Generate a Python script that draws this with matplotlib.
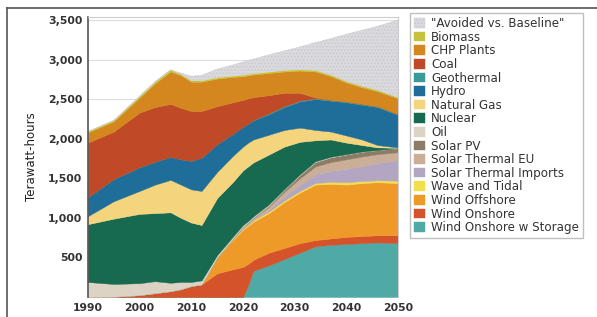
import matplotlib
matplotlib.use("Agg")
import matplotlib.pyplot as plt
from matplotlib.ticker import FuncFormatter
from matplotlib.lines import Line2D

plt.rcParams['font.family'] = ['DejaVu Sans']
plt.rcParams['hatch.color'] = '#c2c2c6'
plt.rcParams['hatch.linewidth'] = 0.6

years = [1990, 1995, 2000, 2003, 2006, 2008, 2010, 2012, 2015, 2018, 2020,
         2021, 2022, 2025, 2028, 2031, 2034, 2037, 2040, 2043, 2046, 2050]

# stack from the bottom up (TWh)
wind_storage = [0, 0, 0, 0, 0, 0, 0, 0, 0, 0, 0,
                150, 330, 400, 480, 560, 640, 660, 670, 680, 690, 680]
wind_onshore = [0, 5, 25, 50, 75, 100, 140, 160, 300, 350, 380,
                270, 140, 160, 140, 120, 80, 80, 90, 90, 90, 100]
wind_offshore = [0, 0, 0, 0, 0, 0, 0, 0, 200, 370, 470,
                 480, 480, 500, 580, 640, 700, 690, 660, 670, 670, 660]
wave_tidal = [0, 0, 0, 0, 0, 0, 0, 0, 0, 10, 15,
              15, 20, 20, 20, 20, 20, 25, 30, 25, 25, 30]
solar_imports = [0, 0, 0, 0, 0, 0, 0, 0, 0, 0, 0,
                 0, 0, 20, 50, 80, 110, 140, 170, 190, 220, 260]
solar_eu = [0, 0, 0, 0, 0, 0, 0, 0, 0, 10, 20,
            25, 30, 40, 60, 80, 100, 110, 120, 120, 110, 100]
solar_pv = [0, 0, 0, 0, 0, 0, 0, 0, 0, 0, 5,
            5, 5, 15, 25, 40, 55, 60, 60, 60, 50, 50]
oil = [190, 160, 150, 150, 105, 90, 50, 50, 30, 20, 20,
       15, 15, 15, 10, 10, 10, 7, 5, 3, 2, 0]
nuclear = [730, 825, 875, 860, 890, 810, 750, 700, 720, 690, 690,
           690, 680, 630, 535, 410, 265, 218, 145, 82, 33, 5]
natural_gas = [100, 220, 290, 360, 410, 420, 420, 430, 330, 330, 300,
               300, 290, 250, 210, 180, 130, 100, 90, 70, 30, 5]
hydro = [240, 280, 300, 290, 290, 320, 360, 420, 350, 280, 250,
         240, 240, 260, 290, 330, 390, 390, 420, 440, 480, 410]
geothermal = [0, 0, 0, 0, 0, 0, 0, 0, 0, 0, 0,
              0, 5, 10, 10, 10, 10, 10, 10, 10, 10, 10]
coal = [690, 600, 690, 690, 670, 650, 630, 590, 480, 400, 340,
        320, 290, 230, 170, 100, 10, 0, 0, 0, 0, 0]
chp = [130, 130, 190, 300, 410, 410, 370, 370, 350, 320, 300,
       290, 285, 280, 270, 280, 330, 300, 240, 210, 190, 200]
biomass = [10, 10, 15, 20, 20, 15, 15, 15, 15, 15, 15,
           15, 15, 15, 15, 15, 15, 15, 15, 15, 15, 10]
avoided = [0, 0, 0, 0, 0, 15, 55, 65, 105, 135, 165,
           175, 180, 215, 245, 285, 350, 460, 595, 705, 805, 980]

labels = ["Wind Onshore w Storage", "Wind Onshore", "Wind Offshore",
          "Wave and Tidal", "Solar Thermal Imports", "Solar Thermal EU",
          "Solar PV", "Oil", "Nuclear", "Natural Gas", "Hydro", "Geothermal",
          "Coal", "CHP Plants", "Biomass", "\"Avoided vs. Baseline\""]
colors = ['#4fa9a5', '#d5532b', '#ee9a28', '#f3de4c', '#b3a6c2', '#cbae98',
          '#8c7b66', '#dcd3c4', '#17694f', '#f4d57e', '#1f6d99', '#3b9a97',
          '#c04a27', '#d5871f', '#c6c23c', '#dadade']

series = [wind_storage, wind_onshore, wind_offshore, wave_tidal,
          solar_imports, solar_eu, solar_pv, oil, nuclear, natural_gas,
          hydro, geothermal, coal, chp, biomass, avoided]

fig = plt.figure(figsize=(5.97, 3.17), dpi=100)
ax = fig.add_axes([0.147, 0.063, 0.52, 0.884])

polys = ax.stackplot(years, *series, labels=labels, colors=colors,
                     linewidth=0.3)
for p, c in zip(polys, colors):
    p.set_edgecolor(c)
polys[-1].set_hatch('.....')
polys[-1].set_edgecolor('#c8c8cc')

ax.set_xlim(1990, 2050)
ax.set_ylim(0, 3540)
ax.set_xticks([1990, 2000, 2010, 2020, 2030, 2040, 2050])
ax.set_yticks([500, 1000, 1500, 2000, 2500, 3000, 3500])
ax.yaxis.set_major_formatter(FuncFormatter(lambda v, p: f"{int(v):,}"))
ax.tick_params(length=0, labelsize=7.8, colors='#333333', pad=4)
for t in ax.get_xticklabels() + ax.get_yticklabels():
    t.set_fontweight('bold')
ax.set_ylabel("Terawatt-hours", fontsize=8.5, color='#222222', labelpad=7)
ax.grid(axis='y', color='#dddddd', linewidth=0.8)
ax.set_axisbelow(True)

for side in ['top', 'right']:
    ax.spines[side].set_color('#cccccc')
ax.spines['bottom'].set_visible(False)
ax.spines['left'].set_color('#555555')
ax.spines['left'].set_linewidth(1.2)

handles, labs = ax.get_legend_handles_labels()
leg = fig.legend(handles[::-1], labs[::-1], loc='upper left',
                 bbox_to_anchor=(410 / 597, 1 - 13 / 317),
                 fontsize=8.6, frameon=True, fancybox=False,
                 handlelength=0.9, handleheight=0.85, handletextpad=0.5,
                 labelspacing=0.05, borderpad=0.35, borderaxespad=0)
leg.get_frame().set_edgecolor('#b0b0b0')
leg.get_frame().set_linewidth(1.0)
for t in leg.get_texts():
    t.set_color('#333333')

# outer border of the picture (top and left edges)
fig.add_artist(Line2D([7 / 597, 7 / 597], [0, 1 - 8 / 317],
                      transform=fig.transFigure, color='#555555', lw=1.2))
fig.add_artist(Line2D([7 / 597, 1], [1 - 8 / 317, 1 - 8 / 317],
                      transform=fig.transFigure, color='#555555', lw=1.2))

fig.savefig("out.png", dpi=100)
